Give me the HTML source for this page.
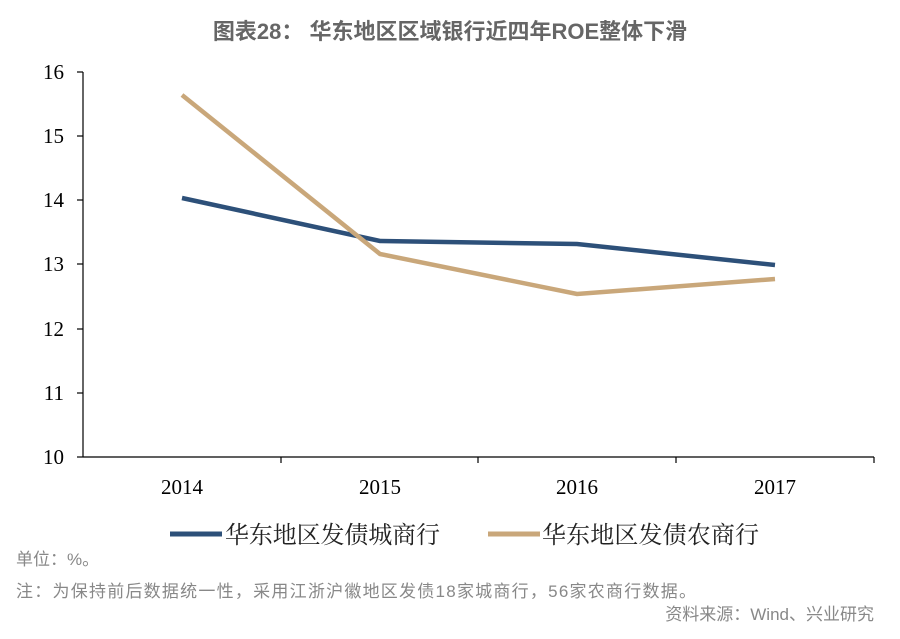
<!DOCTYPE html>
<html><head><meta charset="utf-8"><style>
body{margin:0;background:#fff;}
svg{display:block;}
</style></head><body>
<svg width="900" height="639" xmlns="http://www.w3.org/2000/svg">
<text x="450" y="39" text-anchor="middle" font-family="Liberation Sans, Noto Sans CJK SC, sans-serif" font-size="22" font-weight="bold" fill="#666">图表28：  华东地区区域银行近四年ROE整体下滑</text>
<g stroke="#000" stroke-width="1.2" fill="none">
<line x1="83" y1="72" x2="83" y2="457"/>
<line x1="83" y1="457" x2="874" y2="457"/>
<line x1="77" y1="72" x2="83" y2="72"/><line x1="77" y1="136" x2="83" y2="136"/><line x1="77" y1="200" x2="83" y2="200"/><line x1="77" y1="264" x2="83" y2="264"/><line x1="77" y1="329" x2="83" y2="329"/><line x1="77" y1="393" x2="83" y2="393"/><line x1="77" y1="457" x2="83" y2="457"/>
<line x1="281" y1="457" x2="281" y2="463"/><line x1="478" y1="457" x2="478" y2="463"/><line x1="676" y1="457" x2="676" y2="463"/><line x1="874" y1="457" x2="874" y2="463"/>
</g>
<g font-family="Liberation Serif, serif" font-size="21" fill="#000" text-anchor="end">
<text x="64" y="79">16</text><text x="64" y="143">15</text><text x="64" y="207">14</text><text x="64" y="271">13</text><text x="64" y="336">12</text><text x="64" y="400">11</text><text x="64" y="464">10</text>
</g>
<g font-family="Liberation Serif, serif" font-size="21" fill="#000" text-anchor="middle">
<text x="182" y="494">2014</text><text x="380" y="494">2015</text><text x="577" y="494">2016</text><text x="775" y="494">2017</text>
</g>
<polyline points="182,198 380,241 577,244 775,265" fill="none" stroke="#2d5079" stroke-width="4.5"/>
<polyline points="182,95 380,254 577,294 775,279" fill="none" stroke="#c9a77a" stroke-width="4.5"/>
<line x1="170" y1="534" x2="222" y2="534" stroke="#2d5079" stroke-width="5"/>
<text x="225" y="543" font-family="Noto Serif CJK SC, serif" font-size="24" fill="#222" textLength="215">华东地区发债城商行</text>
<line x1="488" y1="534" x2="540" y2="534" stroke="#c9a77a" stroke-width="5"/>
<text x="542" y="543" font-family="Noto Serif CJK SC, serif" font-size="24" fill="#222" textLength="217">华东地区发债农商行</text>
<g font-family="Liberation Sans, Noto Sans CJK SC, sans-serif" font-size="17" fill="#888">
<text x="16" y="565">单位：%。</text>
<text x="16" y="597" textLength="680">注：为保持前后数据统一性，采用江浙沪徽地区发债18家城商行，56家农商行数据。</text>
<text x="874" y="620" text-anchor="end">资料来源：Wind、兴业研究</text>
</g>
</svg>
</body></html>
